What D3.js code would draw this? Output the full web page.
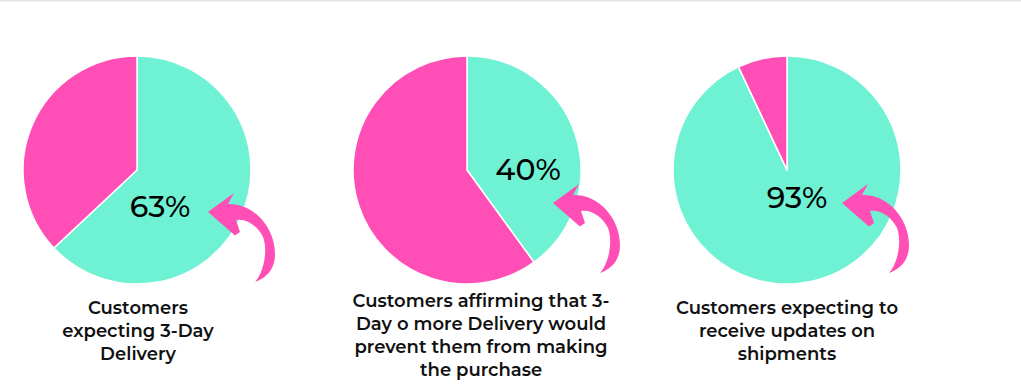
<!DOCTYPE html>
<html>
<head>
<meta charset="utf-8">
<script src="https://cdn.jsdelivr.net/npm/d3@7"></script>
<style>
  html, body { margin: 0; padding: 0; background: #fff; }
  svg { display: block; font-family: Montserrat, Inter, sans-serif; }
</style>
</head>
<body>
<script>
// data
const categories = ["Customers expecting 3-Day Delivery",
  "Customers affirming that 3-Day o more Delivery would prevent them from making the purchase",
  "Customers expecting to receive updates on shipments"];
const captionLines = [
  ["Customers", "expecting 3-Day", "Delivery"],
  ["Customers affirming that 3-", "Day o more Delivery would", "prevent them from making", "the purchase"],
  ["Customers expecting to", "receive updates on", "shipments"]
];
const yesValues = [63, 40, 93];
const pctLabels = ["63%", "40%", "93%"];
const sliceKeys = ["yes", "no"];

const w = 1021;
const h = 387;

// layout (pixels)
const pieX = [137, 467, 787];
const pieY = 170;
const radius = 114;
const labelOffset = [[23, 47], [61, 10], [10, 38]];
const arrowTip = [[208, 212], [553, 203], [842, 203]];
const captionX = [138, 481, 787];
const captionTop = [314, 307, 314];
const lineH = 23;

const color = d3.scaleOrdinal().domain(sliceKeys).range(["#6ff2d3", "#ff4fb6"]);

const svg = d3.select("body").append("svg")
  .attr("width", w)
  .attr("height", h);

svg.append("rect")
  .attr("x", 0).attr("y", 0)
  .attr("width", w).attr("height", 1.5)
  .attr("fill", "#e4e4e4");

const pie = d3.pie().sort(null).value((d) => d.value);
const arc = d3.arc().innerRadius(0).outerRadius(radius);

// curved annotation arrow, tip at (0,0)
const arrowPath = () => {
  const p = d3.path();
  p.moveTo(0, 0);
  p.lineTo(26, -19);
  p.lineTo(20, -8);
  p.bezierCurveTo(45, -9, 67, 15, 67, 42);
  p.bezierCurveTo(67, 58, 58, 66, 47, 70);
  p.bezierCurveTo(56, 60, 60, 38, 55, 25);
  p.bezierCurveTo(50, 14, 38, 6, 28, 8);
  p.lineTo(32, 20);
  p.lineTo(27, 23.5);
  p.closePath();
  return p.toString();
};

yesValues.forEach((v, i) => {
  const slices = pie([{ key: "yes", value: v }, { key: "no", value: 100 - v }]);

  const g = svg.append("g")
    .attr("transform", `translate(${pieX[i]}, ${pieY})`);

  g.selectAll("path")
    .data(slices)
    .enter()
    .append("path")
    .attr("d", arc)
    .attr("fill", (d) => color(d.data.key))
    .attr("stroke", "#fff")
    .attr("stroke-width", 1.5)
    .attr("stroke-linejoin", "round");

  g.append("text")
    .text(pctLabels[i])
    .attr("x", labelOffset[i][0])
    .attr("y", labelOffset[i][1])
    .attr("text-anchor", "middle")
    .style("font-size", "30px")
    .style("font-weight", 500)
    .style("fill", "#000");

  svg.append("path")
    .attr("d", arrowPath())
    .attr("transform", `translate(${arrowTip[i][0]}, ${arrowTip[i][1]})`)
    .attr("fill", "#ff4fb6");

  svg.append("text")
    .attr("text-anchor", "middle")
    .style("font-size", "18px")
    .style("font-weight", 600)
    .style("fill", "#111")
    .selectAll("tspan")
    .data(captionLines[i])
    .enter()
    .append("tspan")
    .attr("x", captionX[i])
    .attr("y", (d, j) => captionTop[i] + j * lineH)
    .text((d) => d);
});
</script>
</body>
</html>
